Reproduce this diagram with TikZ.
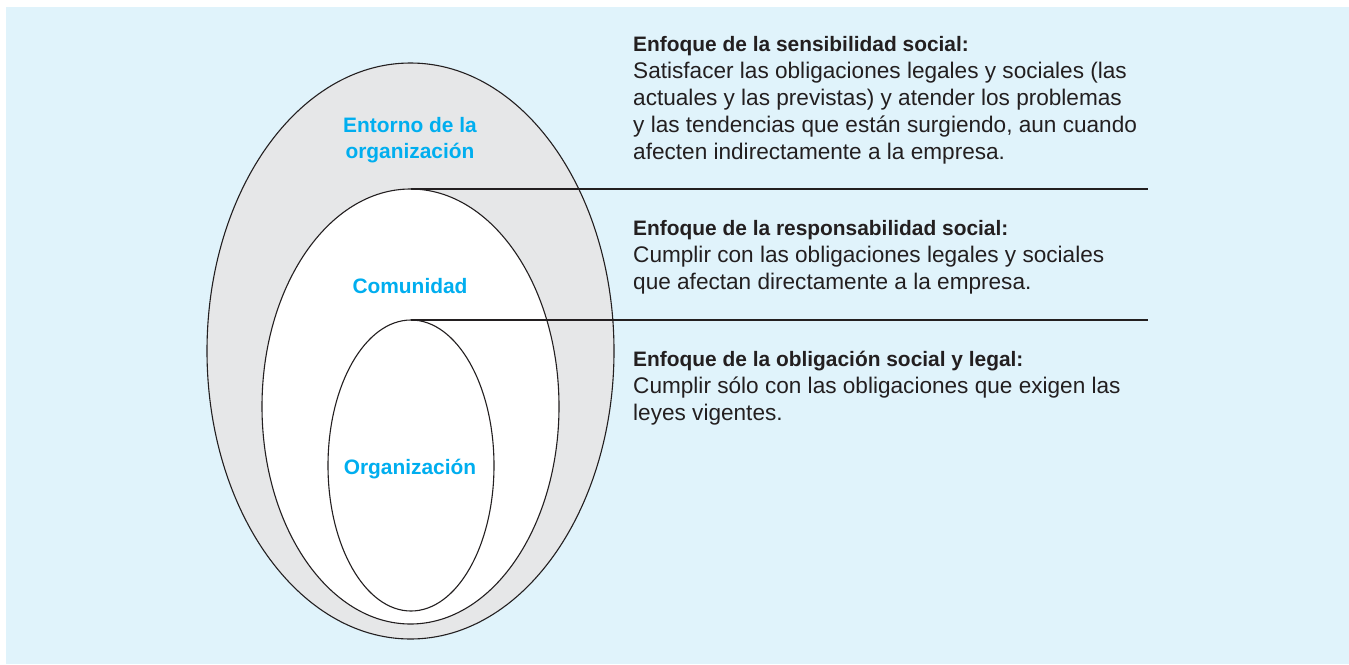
\documentclass[tikz,border=0pt]{standalone}
\usepackage{fontspec}
\setmainfont{Liberation Sans}
\usetikzlibrary{shapes.geometric}
\definecolor{bgblue}{RGB}{224,243,251}
\definecolor{ringgray}{RGB}{230,231,232}
\definecolor{labelcyan}{RGB}{0,174,239}
\definecolor{inkdark}{RGB}{35,31,32}
\tikzset{
  ring/.style={ellipse, draw=inkdark, line width=1.1pt, inner sep=0pt, outer sep=0pt},
  divider/.style={draw=inkdark, line width=1.1pt},
  headtxt/.style={anchor=base west, inner sep=0pt, text=inkdark, font=\fontsize{20.9}{27}\selectfont\bfseries},
  bodytxt/.style={anchor=base west, inner sep=0pt, text=inkdark, font=\fontsize{22.6}{27}\selectfont},
  ringlabel/.style={anchor=base, inner sep=0pt, text=labelcyan, font=\fontsize{20.9}{26}\selectfont\bfseries}
}
\begin{document}
\begin{tikzpicture}[x=1pt,y=-1pt]
\useasboundingbox (0,0) rectangle (1349,664);
\fill[white] (0,0) rectangle (1349,664);
\fill[bgblue] (6,7) rectangle (1349,664);
% rings
\node[ring, fill=ringgray, minimum width=407pt, minimum height=576pt] (outer) at (410.5,351) {};
\node[ring, fill=white, minimum width=297pt, minimum height=435pt] (middle) at (410.5,406.5) {};
\node[ring, fill=white, minimum width=166pt, minimum height=291pt] (inner) at (411,465.5) {};
% divider ends
\coordinate (endA) at (1148,190);
\coordinate (endB) at (1148,320.5);
\draw[divider] (middle.north) -- (middle.north -| endA);
\draw[divider] (inner.north) -- (inner.north -| endB);
% ring labels
\node[ringlabel] (entorno1) at (410,132) {Entorno de la};
\node[ringlabel] (entorno2) at (410,158) {organización};
\node[ringlabel] (comunidad) at (410,293) {Comunidad};
\node[ringlabel] (organizacion) at (410,474) {Organización};
% text block 1
\node[headtxt] (h1) at (633,51.5) {Enfoque de la sensibilidad social:};
\node[bodytxt] (b1a) at (633,78.5) {Satisfacer las obligaciones legales y sociales (las};
\node[bodytxt] (b1b) at (633,105.5) {actuales y las previstas) y atender los problemas};
\node[bodytxt] (b1c) at (633,132.5) {y las tendencias que están surgiendo, aun cuando};
\node[bodytxt] (b1d) at (633,159.5) {afecten indirectamente a la empresa.};
% text block 2
\node[headtxt] (h2) at (633,235) {Enfoque de la responsabilidad social:};
\node[bodytxt] (b2a) at (633,262) {Cumplir con las obligaciones legales y sociales};
\node[bodytxt] (b2b) at (633,289) {que afectan directamente a la empresa.};
% text block 3
\node[headtxt] (h3) at (633,366.5) {Enfoque de la obligación social y legal:};
\node[bodytxt] (b3a) at (633,393.5) {Cumplir sólo con las obligaciones que exigen las};
\node[bodytxt] (b3b) at (633,420.5) {leyes vigentes.};
\end{tikzpicture}
\end{document}
